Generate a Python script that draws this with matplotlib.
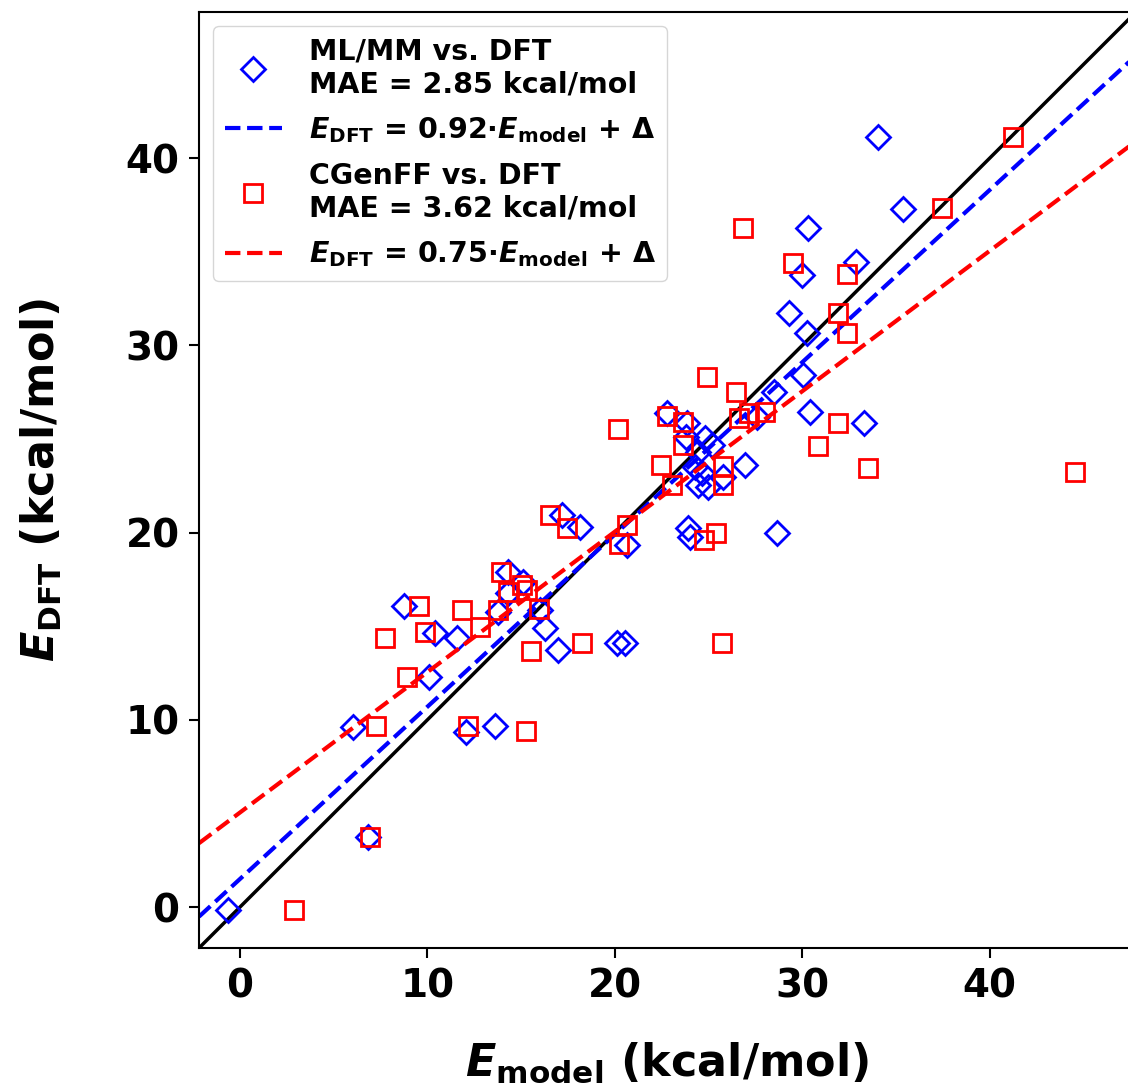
import numpy as np
import matplotlib
matplotlib.use("Agg")
import matplotlib.pyplot as plt

# ML/MM vs DFT (model energy, DFT energy)
ml_model = [-0.64, 6.83, 6.03, 8.75, 10.40, 10.08, 11.57, 12.05, 13.60, 14.29,
            15.09, 14.29, 13.76, 16.00, 16.27, 16.96, 17.17, 18.13, 20.64, 20.10,
            20.53, 22.77, 23.84, 23.80, 24.80, 25.17, 24.43, 24.27, 24.64, 24.43,
            24.96, 25.76, 26.93, 23.89, 24.00, 28.64, 27.57, 28.48, 30.40, 33.28,
            30.03, 30.24, 29.28, 29.97, 32.85, 30.29, 35.36, 34.03]
ml_dft = [-0.13, 3.76, 9.64, 16.10, 14.66, 12.31, 14.39, 9.38, 9.69, 17.91,
          17.38, 16.79, 15.78, 15.88, 14.92, 13.75, 20.96, 20.32, 19.35, 14.12,
          14.12, 26.40, 25.87, 25.10, 25.07, 24.69, 24.32, 23.52, 23.20, 22.56,
          22.45, 22.98, 23.62, 20.26, 19.78, 20.00, 26.19, 27.52, 26.45, 25.87,
          28.43, 30.66, 31.73, 33.77, 34.46, 36.28, 37.29, 41.14]

# CGenFF vs DFT
cg_model = [2.88, 6.93, 7.25, 7.73, 8.90, 9.55, 9.87, 12.16, 11.84, 12.80,
            13.92, 14.29, 15.04, 15.31, 13.76, 15.95, 15.52, 15.25, 18.24, 16.53,
            17.44, 20.64, 20.21, 20.16, 22.45, 22.77, 23.04, 23.63, 23.63, 24.90,
            24.75, 25.39, 25.71, 25.76, 25.76, 26.45, 26.60, 27.15, 28.00, 26.83,
            29.49, 30.83, 31.89, 31.89, 32.37, 32.37, 33.49, 37.44, 41.23, 44.53]
cg_dft = [-0.13, 3.76, 9.69, 14.39, 12.31, 16.10, 14.71, 9.69, 15.88, 14.98,
          17.91, 16.85, 17.22, 16.95, 15.88, 15.94, 13.69, 9.43, 14.12, 20.96,
          20.26, 20.42, 19.41, 25.55, 23.63, 26.24, 22.56, 24.69, 25.92, 28.30,
          19.62, 20.00, 14.12, 23.57, 22.56, 27.50, 26.13, 26.40, 26.45, 36.28,
          34.41, 24.64, 31.73, 25.87, 33.82, 30.66, 23.46, 37.35, 41.14, 23.25]

ml_mae = 2.85
cg_mae = 3.62
ml_slope, ml_icpt = 0.92, 1.50
cg_slope, cg_icpt = 0.75, 5.05

xticks = [0, 10, 20, 30, 40]
yticks = [0, 10, 20, 30, 40]
lims = (-2.18, 47.8)

W, H = 1128, 1087
fig = plt.figure(figsize=(W / 100, H / 100), dpi=100)
ax = fig.add_axes([199 / W, (H - 948) / H, 937 / W, 936 / H])

fit_fmt = r"$\mathbfit{E}_\mathbf{DFT}$ = %.2f·$\mathbfit{E}_\mathbf{model}\mathbf{\,+\,\Delta}$"

ax.plot(ml_model, ml_dft, linestyle="none", marker="D", ms=12.5, mfc="none",
        mec="blue", mew=2.0,
        label="ML/MM vs. DFT\nMAE = %.2f kcal/mol" % ml_mae)
xs = np.array(lims)
ax.plot(xs, ml_slope * xs + ml_icpt, "--", color="blue", lw=3,
        label=fit_fmt % ml_slope)
ax.plot(cg_model, cg_dft, linestyle="none", marker="s", ms=13, mfc="none",
        mec="red", mew=2.0,
        label="CGenFF vs. DFT\nMAE = %.2f kcal/mol" % cg_mae)
ax.plot(xs, cg_slope * xs + cg_icpt, "--", color="red", lw=3,
        label=fit_fmt % cg_slope)
ax.plot(xs, xs, "-", color="black", lw=2.5, zorder=1)

ax.set_xlim(lims)
ax.set_ylim(lims)
ax.set_xticks(xticks)
ax.set_yticks(yticks)
ax.tick_params(labelsize=28, width=1.5, length=7, pad=7)
for lab in ax.get_xticklabels() + ax.get_yticklabels():
    lab.set_fontweight("bold")
for sp in ax.spines.values():
    sp.set_linewidth(1.5)

ax.set_xlabel(r"$\mathbfit{E}_\mathbf{model}$ (kcal/mol)", fontsize=32,
              fontweight="bold", labelpad=25)
ax.set_ylabel(r"$\mathbfit{E}_\mathbf{DFT}$ (kcal/mol)", fontsize=32,
              fontweight="bold", labelpad=44)

leg = ax.legend(loc="upper left", prop={"size": 20.5, "weight": "bold"},
                borderaxespad=0.5, labelspacing=0.6, handletextpad=0.95)

fig.savefig("out.png", dpi=100)
